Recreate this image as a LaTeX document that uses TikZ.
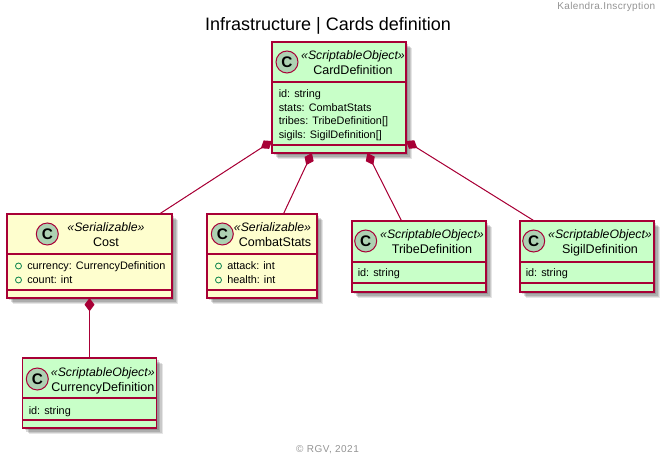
\documentclass[tikz,border=0pt]{standalone}
\usepackage{fontspec}
\setmainfont{Liberation Sans}
\usepackage{xcolor}
\usetikzlibrary {arrows.meta,
                 shadows}
\definecolor{umlred}{HTML}{A80036}
\definecolor{umlgreen}{HTML}{C8FFC8}
\definecolor{umlyellow}{HTML}{FEFECE}
\definecolor{umlcircle}{HTML}{ADD1B2}
\definecolor{umlvis}{HTML}{038048}
\tikzset{
    softshadow/.style={
        drop shadow={shadow xshift=4.8pt, shadow yshift=-4.8pt, opacity=.10, fill=black},
        drop shadow={shadow xshift=3.8pt, shadow yshift=-3.8pt, opacity=.12, fill=black},
        drop shadow={shadow xshift=2.8pt, shadow yshift=-2.8pt, opacity=.14, fill=black},
        drop shadow={shadow xshift=1.8pt, shadow yshift=-1.8pt, opacity=.14, fill=black},
    },
    base/.style={draw=umlred, line width=.95pt, rectangle, inner sep=0pt, outer sep=0pt, softshadow},
    sobox/.style={base, fill=umlgreen},
    serbox/.style={base, fill=umlyellow},
    bigbox/.style={minimum width=100.5pt, minimum height=53.25pt},
    stereo/.style={anchor=base, inner sep=0pt, font=\fontsize{9.2pt}{11pt}\itshape},
    cname/.style={anchor=base, inner sep=0pt, font=\fontsize{9.4pt}{11pt}\selectfont},
    attr/.style={anchor=base west, inner sep=0pt, font=\fontsize{8.15pt}{10pt}\selectfont},
    spot/.style={circle, draw=umlred, line width=.75pt, fill=umlcircle, minimum size=16.5pt,
                 inner sep=0pt, font=\fontsize{11.5pt}{12pt}\bfseries},
    vis/.style={circle, draw=umlvis, line width=.6pt, minimum size=4.5pt, inner sep=0pt},
    marks/.style={anchor=base, inner sep=0pt, text=gray!85, font=\fontsize{7.5pt}{9pt}\selectfont},
    comp/.style={{Diamond[length=10pt, width=7.5pt]}-, draw=umlred, fill=umlred, line width=.75pt},
}
\newcommand{\classline}[2]{\draw[umlred, line width=.95pt] ([yshift=-#2*.75pt]#1.north west) -- ([yshift=-#2*.75pt]#1.north east);}

\begin{document}
\begin{tikzpicture}[x=.75pt, y=-.75pt]
    \useasboundingbox (0,0) rectangle (667,459);

    \node[marks, anchor=base east] (header) at (655.5,10) {\addfontfeature{LetterSpace=3.5}Kalendra.Inscryption};
    \node[anchor=base, inner sep=0pt, font=\fontsize{13.5pt}{16pt}\selectfont] (title) at (328,31) {Infrastructure | Cards definition};
    \node[marks, font=\fontsize{7.5pt}{9pt}\addfontfeature{LetterSpace=5}] (footer) at (327.5,452.5) {© RGV, 2021};

    % boxes
    \node[sobox, minimum width=100.5pt, minimum height=83.25pt] (card) at (339,97.5) {};
    \node[serbox, minimum width=123.75pt, minimum height=63pt] (cost) at (89.5,256) {};
    \node[serbox, minimum width=82.5pt, minimum height=63pt] (stats) at (262,256) {};
    \node[sobox, bigbox] (tribe) at (419,256.5) {};
    \node[sobox, bigbox] (sigil) at (587,256.5) {};
    \node[sobox, minimum width=100.5pt, minimum height=52.5pt] (currency) at (89.5,393) {};

    \classline{card}{40} \classline{card}{103}
    \classline{cost}{40} \classline{cost}{76}
    \classline{stats}{40} \classline{stats}{76}
    \classline{tribe}{41} \classline{tribe}{62}
    \classline{sigil}{41} \classline{sigil}{62}
    \classline{currency}{40} \classline{currency}{62}

    % card
    \node[spot] (cardc) at (287,62) {C};
    \node[stereo] (cards) at (353,60) {«ScriptableObject»};
    \node[cname] (cardn) at (353,75) {CardDefinition};
    \node[attr] (carda) at (278.5,98) {id: string};
    \node[attr] (cardb) at (278.5,112) {stats: CombatStats};
    \node[attr] (cardd) at (278.5,125) {tribes: TribeDefinition[]};
    \node[attr] (carde) at (278.5,139) {sigils: SigilDefinition[]};

    % cost
    \node[spot] (costc) at (47.3,234) {C};
    \node[stereo] (costs) at (106,232) {«Serializable»};
    \node[cname] (costn) at (106,247) {Cost};
    \node[vis] (costv) at (18.5,266) {};
    \node[attr] (costa) at (27,270) {currency: CurrencyDefinition};
    \node[vis] (costw) at (18.5,280) {};
    \node[attr] (costb) at (27,284) {count: int};

    % stats
    \node[spot] (statsc) at (222.3,234) {C};
    \node[stereo] (statss) at (272.5,232) {«Serializable»};
    \node[cname] (statsn) at (275,247) {CombatStats};
    \node[vis] (statsv) at (218.5,266) {};
    \node[attr] (statsa) at (227,270) {attack: int};
    \node[vis] (statsw) at (218.5,280) {};
    \node[attr] (statsb) at (227,284) {health: int};

    % tribe
    \node[spot] (tribec) at (365.7,241) {C};
    \node[stereo] (tribes) at (432,238.5) {«ScriptableObject»};
    \node[cname] (triben) at (432,254) {TribeDefinition};
    \node[attr] (tribea) at (357.5,277) {id: string};

    % sigil
    \node[spot] (sigilc) at (533.7,241) {C};
    \node[stereo] (sigils) at (600,238.5) {«ScriptableObject»};
    \node[cname] (sigiln) at (600,254) {SigilDefinition};
    \node[attr] (sigila) at (525.5,277) {id: string};

    % currency
    \node[spot] (currencyc) at (37.3,379) {C};
    \node[stereo] (currencys) at (102.8,376) {«ScriptableObject»};
    \node[cname] (currencyn) at (102.8,391) {CurrencyDefinition};
    \node[attr] (currencya) at (28.5,414) {id: string};

    % links
    \draw[comp] (card.213.9) -- (cost.31.9);
    \draw[comp] (card.244.06) -- (stats.63.4);
    \draw[comp] (card.-63.6) -- (tribe.116.9);
    \draw[comp] (card.-33.6) -- (sigil.146.2);
    \draw[comp] (cost.south) -- (currency.north);

\end{tikzpicture}
\end{document}
